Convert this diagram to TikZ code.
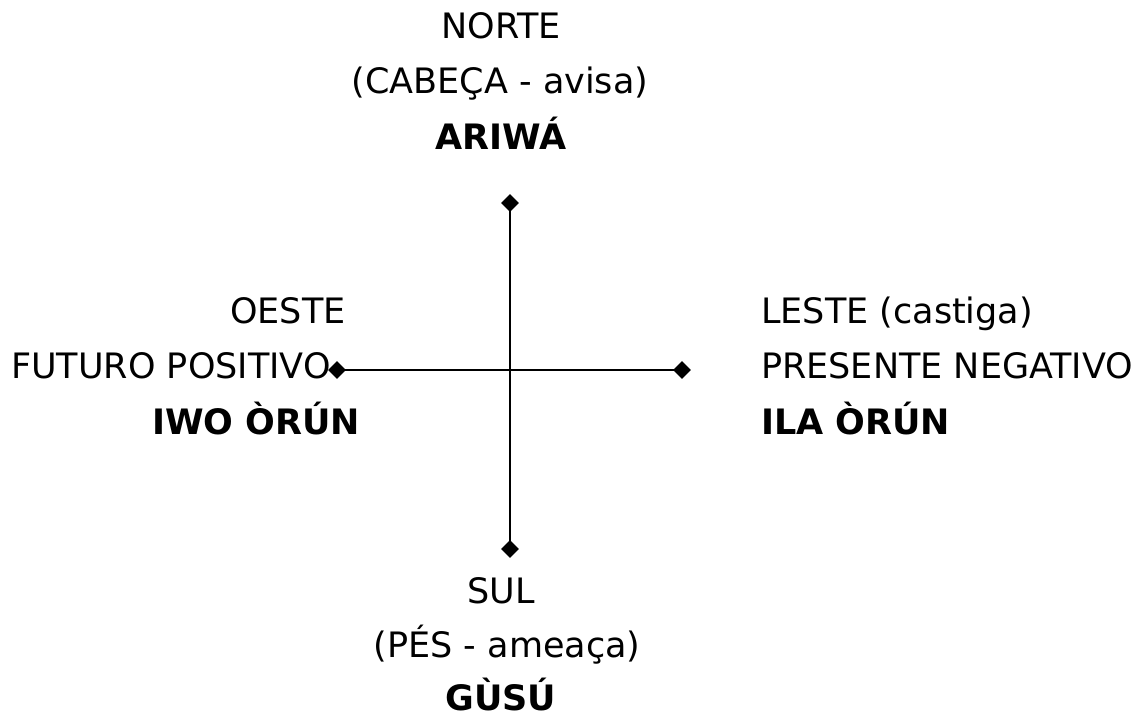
\documentclass[tikz,border=0pt]{standalone}
\usepackage{fontspec}
\setmainfont{DejaVu Sans}
\usepackage{tikz}
\usetikzlibrary{shapes.geometric}

\begin{document}
\begin{tikzpicture}[
    x=1pt, y=-1pt,
    every node/.style={font=\fontsize{35}{42}\selectfont, inner sep=0pt},
    label/.style={anchor=base},
    leftlabel/.style={anchor=base west},
    bold/.style={font=\fontsize{35}{42}\selectfont\bfseries},
    tipmark/.style={diamond, fill=black, minimum width=18pt, minimum height=18pt},
    axis/.style={line width=2pt}
]
    % Page frame
    \useasboundingbox (0,0) rectangle (1145,719);

    % === AXIS ENDS ===
    \node[tipmark] (dn) at (510,203) {};
    \node[tipmark] (ds) at (510,549) {};
    \node[tipmark] (dw) at (337,370) {};
    \node[tipmark] (de) at (682,370) {};

    % Cross
    \draw[axis] (dn.center) -- (ds.center);
    \draw[axis] (dw.center) -- (de.center);

    % === NORTH ===
    \node[label] (norte) at (501,39) {NORTE};
    \node[label] (cabeca) at (500,94) {(CABEÇA - avisa)};
    \node[label, bold] (ariwa) at (501,150) {ARIWÁ};

    % === WEST ===
    \node[label] (oeste) at (288,323) {OESTE};
    \node[leftlabel] (futuro) at (11,378) {FUTURO POSITIVO};
    \node[label, bold] (iwo) at (256,434) {IWO ÒRÚN};

    % === EAST ===
    \node[leftlabel] (leste) at (761,323) {LESTE (castiga)};
    \node[leftlabel] (presente) at (761,378) {PRESENTE NEGATIVO};
    \node[leftlabel, bold] (ila) at (761,434) {ILA ÒRÚN};

    % === SOUTH ===
    \node[label] (sul) at (501,603) {SUL};
    \node[label] (pes) at (507,657) {(PÉS - ameaça)};
    \node[label, bold] (gusu) at (501,710) {GÙSÚ};
\end{tikzpicture}
\end{document}
